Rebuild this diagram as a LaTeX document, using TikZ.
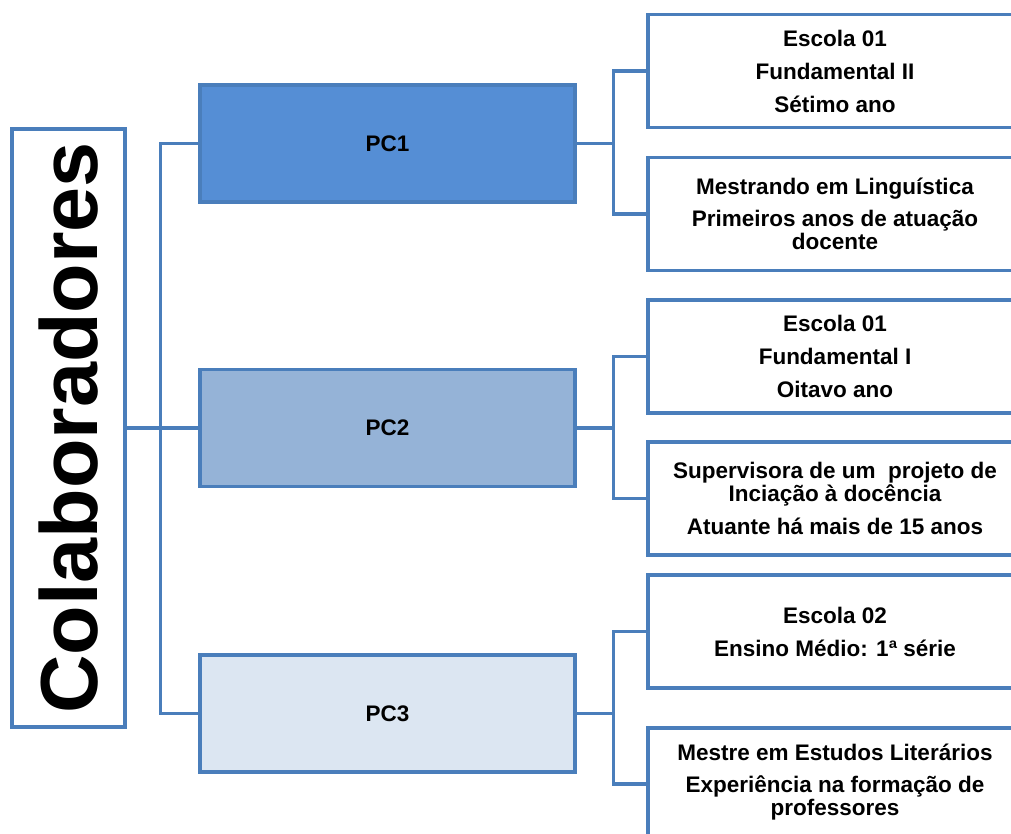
\documentclass[tikz,border=0pt]{standalone}
\usepackage{fontspec}
\setmainfont{Liberation Sans}
\newfontfamily\boxfont{Liberation Sans}
\definecolor{bord}{RGB}{74,126,187}
\definecolor{pcA}{RGB}{85,142,213}
\definecolor{pcB}{RGB}{149,179,215}
\definecolor{pcC}{RGB}{220,230,242}
\begin{document}
\begin{tikzpicture}[x=1pt,y=-1pt,
  bordc/.style={draw=bord, line width=3.2pt},
  colbox/.style={bordc, fill=white, minimum width=113pt, minimum height=598pt, inner sep=0pt, font=\bfseries\fontsize{81}{81}\selectfont},
  pcbox/.style={bordc, minimum width=375pt, minimum height=117pt, inner sep=0pt, font=\boxfont\bfseries\fontsize{22.5}{23}\selectfont},
  infobox/.style={bordc, fill=white, minimum width=374pt, minimum height=113pt, inner sep=0pt, align=center, font=\boxfont\bfseries\fontsize{22.5}{23}\selectfont},
  infotext/.style={inner sep=0pt, align=center, font=\boxfont\bfseries\fontsize{22.5}{23}\selectfont},
  conn/.style={draw=bord, line width=3.2pt, line join=miter}]
\useasboundingbox (0,0) rectangle (1011,834);
\clip (0,0) rectangle (1011,834);
\fill[white] (0,0) rectangle (1011,834);

% left title box
\node[colbox] (col) at (68.5,428) {\rotatebox{90}{Colaboradores}};

% PC boxes
\node[pcbox, fill=pcA] (pc1) at (387.5,143.5) {PC1};
\node[pcbox, fill=pcB] (pc2) at (387.5,428) {PC2};
\node[pcbox, fill=pcC] (pc3) at (387.5,713.5) {PC3};

% info boxes
\node[infobox] (b1) at (835,71) {Escola 01\\[10pt]Fundamental II\\[10pt]Sétimo ano};
\node[infobox] (b2) at (835,214) {Mestrando em Linguística\\[9pt]Primeiros anos de atuação\\docente};
\node[infobox] (b3) at (835,356.5) {Escola 01\\[10pt]Fundamental I\\[10pt]Oitavo ano};
\node[infobox] (b4) at (835,498.5) {Supervisora de um \ projeto de\\Inciação à docência\\[10pt]Atuante há mais de 15 anos};
\node[infobox] (b5) at (835,631.5) {Escola 02\\[10pt]Ensino Médio: 1ª série};
\node[infobox, minimum height=112pt] (b6) at (835,784) {};
\node[infotext] (t6) at (835,782) {Mestre em Estudos Literários\\[9pt]Experiência na formação de\\professores};

% connectors
\draw[conn] (col.east |- pc2.west) -- (pc2.west);
\draw[conn] (pc1.west) -- ++(-38,0) |- (pc3.west);
\draw[conn] (pc1.east) -- ++(37,0) coordinate (j1) |- (b1.west);
\draw[conn] (j1) |- (b2.west);
\draw[conn] (pc2.east) -- ++(37,0) coordinate (j2) |- (b3.west);
\draw[conn] (j2) |- (b4.west);
\draw[conn] (pc3.east) -- ++(37,0) coordinate (j3) |- (b5.west);
\draw[conn] (j3) |- (b6.west);
\end{tikzpicture}
\end{document}
